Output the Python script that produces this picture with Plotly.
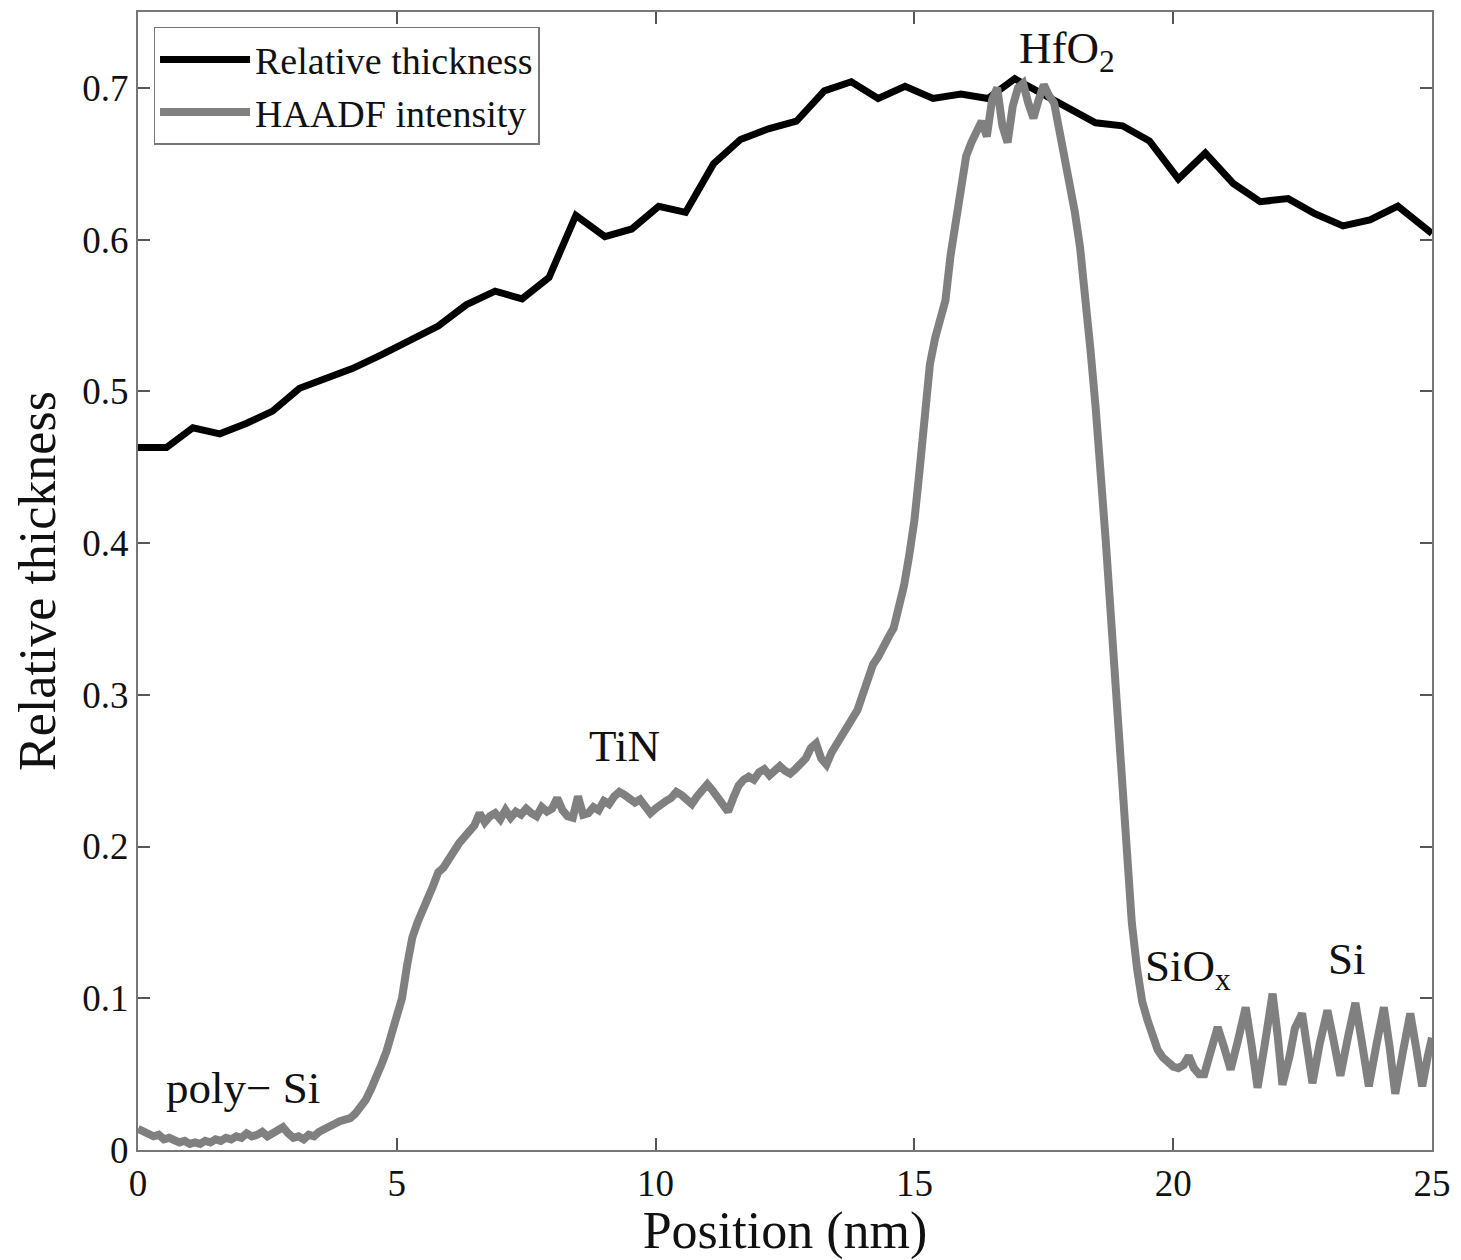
import plotly.graph_objects as go

# Relative thickness (black curve)
thick_x = [0.0, 0.55, 1.06, 1.58, 2.10, 2.60, 3.12, 3.64, 4.14, 4.70, 5.24, 5.80, 6.34, 6.90,
           7.42, 7.94, 8.46, 9.02, 9.54, 10.06, 10.58, 11.12, 11.64, 12.18, 12.72, 13.26,
           13.78, 14.30, 14.82, 15.36, 15.90, 16.42, 16.94, 17.46, 17.98, 18.50, 19.02,
           19.54, 20.10, 20.62, 21.16, 21.68, 22.22, 22.74, 23.28, 23.80, 24.34, 25.0]
thick_y = [0.463, 0.463, 0.476, 0.472, 0.479, 0.487, 0.502, 0.509, 0.515, 0.524, 0.533, 0.543,
           0.557, 0.566, 0.561, 0.575, 0.616, 0.602, 0.607, 0.622, 0.618, 0.650, 0.666, 0.673,
           0.678, 0.698, 0.704, 0.693, 0.701, 0.693, 0.696, 0.693, 0.706, 0.696, 0.686, 0.677,
           0.675, 0.665, 0.640, 0.657, 0.637, 0.625, 0.627, 0.617, 0.609, 0.613, 0.622, 0.604]

# HAADF intensity (grey curve): 0.0 .. 19.9 nm sampled every 0.1 nm
haadf_y_main = [
    0.014, 0.012, 0.011, 0.009, 0.010, 0.007, 0.008, 0.006, 0.005, 0.006,
    0.004, 0.005, 0.004, 0.006, 0.005, 0.007, 0.006, 0.008, 0.007, 0.009,
    0.008, 0.011, 0.009, 0.010, 0.012, 0.009, 0.011, 0.013, 0.015, 0.011,
    0.008, 0.009, 0.007, 0.010, 0.009, 0.012, 0.014, 0.016, 0.017, 0.019,
    0.020, 0.021, 0.024, 0.028, 0.033, 0.040, 0.047, 0.056, 0.065, 0.076,
    0.088, 0.100, 0.122, 0.140, 0.150, 0.160, 0.166, 0.174, 0.183, 0.186,
    0.192, 0.197, 0.202, 0.206, 0.210, 0.214, 0.222, 0.216, 0.220, 0.222,
    0.218, 0.224, 0.219, 0.223, 0.221, 0.225, 0.222, 0.220, 0.226, 0.223,
    0.225, 0.232, 0.224, 0.220, 0.219, 0.233, 0.221, 0.222, 0.226, 0.224,
    0.230, 0.228, 0.233, 0.236, 0.234, 0.232, 0.229, 0.231, 0.226, 0.222,
    0.225, 0.228, 0.230, 0.232, 0.236, 0.234, 0.231, 0.228, 0.233, 0.238,
    0.241, 0.237, 0.232, 0.226, 0.223, 0.232, 0.240, 0.244, 0.246, 0.244,
    0.249, 0.251, 0.247, 0.250, 0.253, 0.250, 0.248, 0.251, 0.255, 0.258,
    0.265, 0.268, 0.258, 0.254, 0.262, 0.268, 0.272, 0.278, 0.285, 0.290,
    0.300, 0.310, 0.320, 0.325, 0.333, 0.338, 0.344, 0.356, 0.372, 0.392,
    0.415, 0.448, 0.485, 0.518, 0.535, 0.548, 0.560, 0.590, 0.612, 0.640,
    0.655, 0.664, 0.672, 0.678, 0.668, 0.692, 0.700, 0.675, 0.664, 0.688,
    0.700, 0.703, 0.690, 0.680, 0.692, 0.702, 0.695, 0.690, 0.672, 0.655,
    0.638, 0.618, 0.595, 0.565, 0.528, 0.490, 0.450, 0.400, 0.350, 0.300,
    0.248, 0.195, 0.150, 0.120, 0.098, 0.086, 0.074, 0.066, 0.061, 0.057,
]
haadf_x_main = [round(0.1 * i, 1) for i in range(len(haadf_y_main))]

# Si lattice fringes region (irregular sampling at peaks / troughs)
haadf_x_si = [20.0, 20.1, 20.2, 20.3, 20.4, 20.5, 20.6, 20.7, 20.86, 20.98, 21.11, 21.25,
              21.40, 21.52, 21.63, 21.78, 21.92, 22.02, 22.11, 22.25, 22.35, 22.49, 22.60,
              22.69, 22.83, 22.98, 23.10, 23.23, 23.38, 23.52, 23.65, 23.78, 23.93, 24.07,
              24.18, 24.29, 24.44, 24.58, 24.70, 24.81, 24.92, 25.0]
haadf_y_si = [0.055, 0.054, 0.056, 0.062, 0.054, 0.050, 0.050, 0.062, 0.081, 0.068, 0.053,
              0.072, 0.094, 0.068, 0.041, 0.072, 0.103, 0.075, 0.043, 0.062, 0.080, 0.090,
              0.066, 0.044, 0.070, 0.092, 0.072, 0.049, 0.075, 0.097, 0.070, 0.042, 0.070,
              0.094, 0.068, 0.037, 0.065, 0.090, 0.066, 0.042, 0.062, 0.074]

haadf_x = haadf_x_main + haadf_x_si
haadf_y = haadf_y_main + haadf_y_si

x_ticks = [0, 5, 10, 15, 20, 25]
y_ticks = [0, 0.1, 0.2, 0.3, 0.4, 0.5, 0.6, 0.7]
y_tick_text = ["0", "0.1", "0.2", "0.3", "0.4", "0.5", "0.6", "0.7"]

labels = ["poly\u2212 Si", "TiN", "HfO<sub>2</sub>", "SiO<sub>x</sub>", "Si"]
label_x = [2.02, 9.40, 17.95, 20.28, 23.36]
label_y = [0.041, 0.266, 0.724, 0.119, 0.126]

FONT = "Liberation Serif, Times New Roman, serif"

fig = go.Figure()
fig.add_trace(go.Scatter(x=thick_x, y=thick_y, mode="lines", name="Relative thickness",
                         line=dict(color="black", width=7)))
fig.add_trace(go.Scatter(x=haadf_x, y=haadf_y, mode="lines", name="HAADF intensity",
                         line=dict(color="#808080", width=8)))

for t, lx, ly in zip(labels, label_x, label_y):
    fig.add_annotation(x=lx, y=ly, text=t, showarrow=False,
                       font=dict(family=FONT, size=45, color="#111"))

axis_common = dict(showline=True, linecolor="#777", linewidth=2, mirror="ticks",
                   ticks="inside", ticklen=12, tickwidth=1.5, tickcolor="#555",
                   showgrid=False, zeroline=False,
                   tickfont=dict(family=FONT, size=37, color="#111"))

fig.update_xaxes(range=[0, 25], tickvals=x_ticks, ticktext=[str(v) for v in x_ticks],
                 title=dict(text="Position (nm)", font=dict(family=FONT, size=52, color="#111"),
                            standoff=0),
                 **axis_common)
fig.update_yaxes(range=[0, 0.75], tickvals=y_ticks, ticktext=y_tick_text,
                 title=dict(text="Relative thickness", font=dict(family=FONT, size=52, color="#111"),
                            standoff=10),
                 **axis_common)

fig.update_layout(
    width=1461, height=1260,
    margin=dict(l=138, r=26, t=10, b=110),
    plot_bgcolor="white", paper_bgcolor="white",
    legend=dict(x=0.012, y=0.987, xanchor="left", yanchor="top",
                bgcolor="white", bordercolor="#777", borderwidth=1.5,
                font=dict(family=FONT, size=38, color="#111"),
                itemwidth=90, tracegroupgap=0),
)

fig.write_html("out.html")
